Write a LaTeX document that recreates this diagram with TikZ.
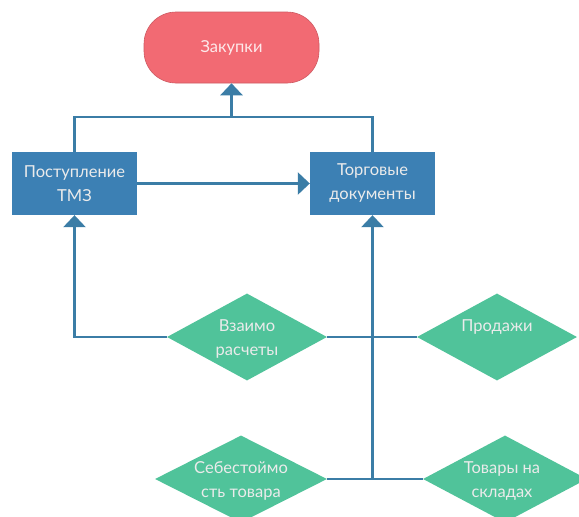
\documentclass[tikz,border=0pt]{standalone}
\usepackage{fontspec}
\setmainfont{Lato}
\usetikzlibrary{arrows.meta,shapes.geometric}

\definecolor{redfill}{HTML}{F26A73}
\definecolor{boxfill}{HTML}{3C80B4}
\definecolor{linecol}{HTML}{3B7DA6}
\definecolor{greenfill}{HTML}{50C39A}

\tikzset{
  txt/.style={text=white!92!black, font=\fontsize{16.5}{24}\selectfont, align=center, inner sep=0pt},
  termbox/.style={fill=redfill, draw=redfill!85!black, line width=0.6pt, rounded corners=32pt,
    minimum width=175pt, minimum height=71pt, inner sep=0pt},
  procbox/.style={fill=boxfill, minimum width=125pt, minimum height=63pt, inner sep=0pt},
  dia/.style={diamond, fill=greenfill, minimum width=160pt, minimum height=87pt, inner sep=0pt},
  conn/.style={draw=linecol, line width=2.6pt},
  arr/.style={conn, -{Triangle[width=22pt,length=12pt]}},
}

\begin{document}
\begin{tikzpicture}[x=1pt, y=-1pt]
  \useasboundingbox[fill=white] (0,0) rectangle (579,517);

  % top terminal and process boxes
  \node[termbox] (zak) at (231.5,47.5) {};
  \node[txt, text=white!85!redfill] at (zak) {Закупки};

  \node[procbox] (pt) at (74.5,183.5) {};
  \node[txt] at (pt) {Поступление\\ТМЗ};
  \node[procbox] (td) at (372.5,183.5) {};
  \node[txt] at (td) {Торговые\\документы};

  % decision diamonds
  \node[dia] (vz) at (247,337) {};
  \node[txt] at ([yshift=-2pt]vz.center) {Взаимо\\расчеты};
  \node[dia] (pr) at (497,337) {};
  \node[txt] at ([yshift=10pt]pr.center) {Продажи};
  \node[dia, minimum width=172pt] (seb) at (241,479) {};
  \node[txt] at ([yshift=-2pt]seb.center) {Себестоймо\\сть товара};
  \node[dia, minimum width=164pt] (tov) at (505,479) {};
  \node[txt] at ([xshift=-3pt,yshift=-2pt]tov.center) {Товары на\\складах};

  % bus above the two boxes feeding the terminal
  \coordinate (busL) at (pt.north |- 0,117);
  \coordinate (busR) at (td.north |- 0,117);
  \draw[conn] (pt.north) -- (busL) -- (busR) -- (td.north);
  \draw[arr] (zak.south |- busL) -- (zak.south);

  % flow between the boxes
  \draw[arr] (pt.east) -- (td.west);

  % links from the diamonds
  \draw[arr] (vz.west) -| (pt.south);
  \draw[conn] (vz.east) -- (pr.west);
  \draw[conn] (seb.east) -- (tov.west);
  \coordinate (junc) at (td.south |- seb.east);
  \draw[arr] (junc) -- (td.south);
\end{tikzpicture}
\end{document}
